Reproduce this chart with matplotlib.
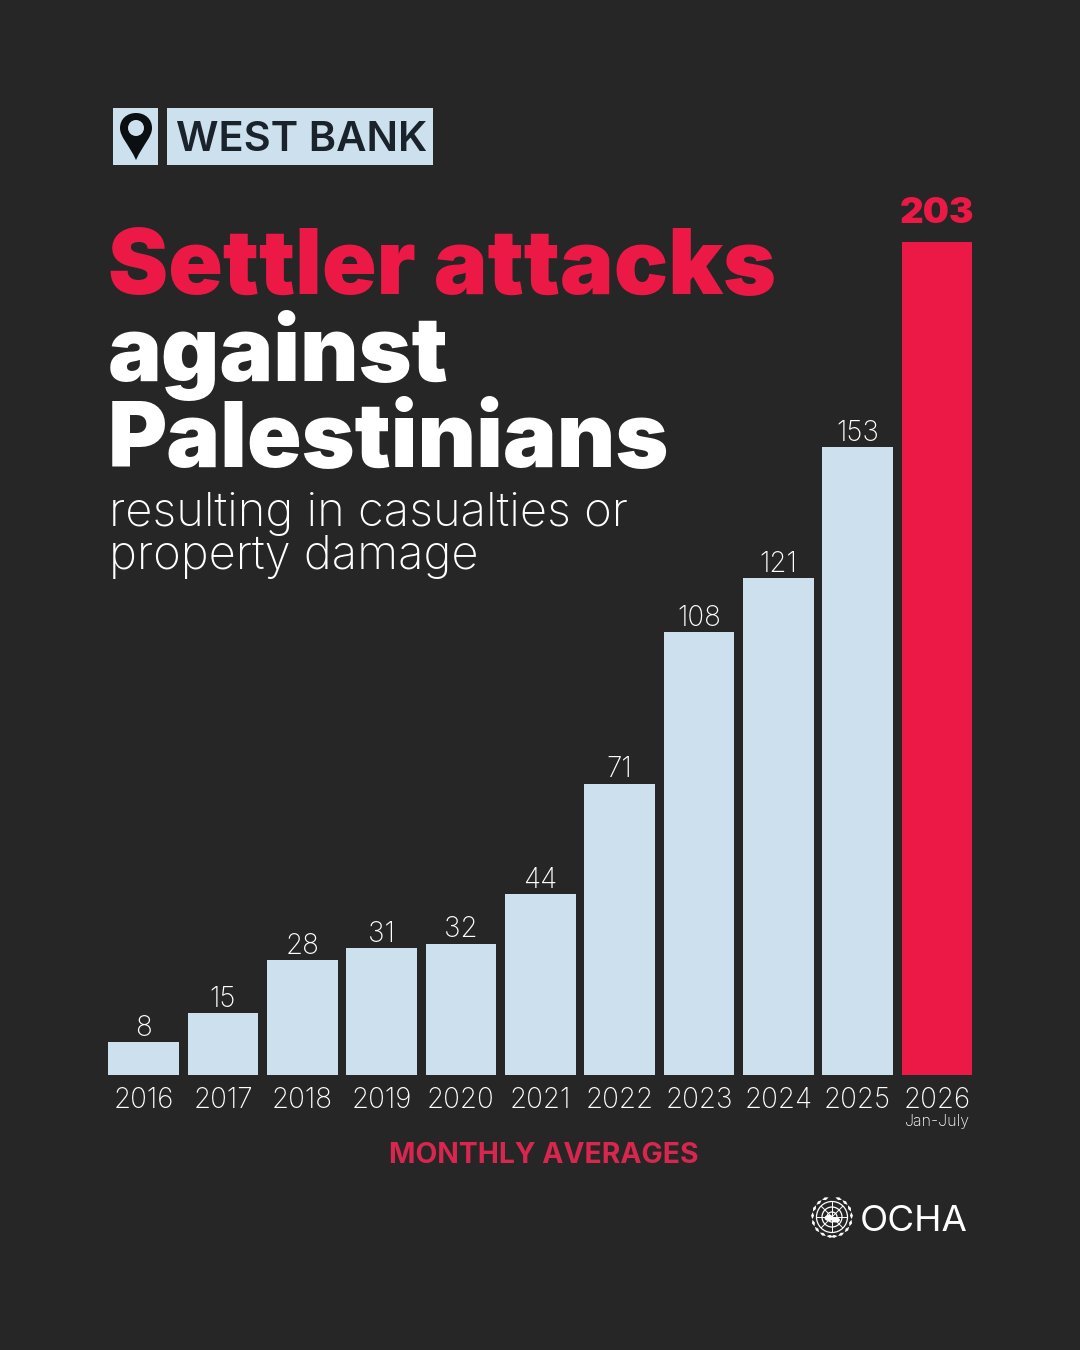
import numpy as np
import matplotlib
matplotlib.use('Agg')
import matplotlib.pyplot as plt
from matplotlib.patches import Rectangle, Circle, PathPatch, Ellipse, Polygon
from matplotlib.path import Path

# data
years = ['2016', '2017', '2018', '2019', '2020', '2021', '2022', '2023', '2024', '2025', '2026']
attacks = [8, 15, 28, 31, 32, 44, 71, 108, 121, 153, 203]
bar_colors = ['#cde0ee'] * 10 + ['#ec1946']

BG = '#262626'
RED = '#ec1946'
LIGHT = '#cde0ee'
DARK = '#1a232b'

plt.rcParams['font.family'] = ['Inter', 'Lato', 'DejaVu Sans']

W, H = 1080, 1350
fig = plt.figure(figsize=(W / 100, H / 100), dpi=100, facecolor=BG)

# canvas axes in pixel coordinates for the text and header boxes
bg = fig.add_axes([0, 0, 1, 1])
bg.set_xlim(0, W)
bg.set_ylim(H, 0)
bg.axis('off')

# bars: baseline at y=1075, top of axes at y=242
ax = fig.add_axes([104 / W, (H - 1075) / H, (976.6 - 104) / W, 833 / H])
ax.patch.set_alpha(0)
x = list(range(len(years)))
ax.bar(x, attacks, width=0.89, color=bar_colors, linewidth=0)
ax.set_xlim(-0.5, 10.5)
ax.set_ylim(0, 203)
ax.axis('off')

for xi, v in zip(x[:-1], attacks[:-1]):
    ax.annotate(str(v), (xi, v), xytext=(0, 4.5), textcoords='offset points', ha='center', va='baseline',
                color='white', fontsize=20, fontweight='light')
ax.annotate('203', (10, 203), xytext=(0, 14), textcoords='offset points', ha='center', va='baseline',
            color=RED, fontsize=26.5, fontweight='black')
for xi, yr in zip(x, years):
    ax.annotate(yr, (xi, 0), xytext=(0, -24), textcoords='offset points', ha='center', va='baseline',
                color='white', fontsize=20, fontweight='light')
ax.annotate('Jan-July', (10, 0), xytext=(0, -37), textcoords='offset points', ha='center', va='baseline',
            color='white', fontsize=11.5, fontweight='light')

# header tag
bg.add_patch(Rectangle((113, 108), 45, 57, color=LIGHT, lw=0))
bg.add_patch(Rectangle((167, 108), 266, 57, color=LIGHT, lw=0))
pin = Path([(136, 160), (128, 143), (120, 137), (120, 128), (120, 119), (127, 113), (136, 113),
            (145, 113), (152, 119), (152, 128), (152, 137), (144, 143), (136, 160)],
           [Path.MOVETO] + [Path.CURVE4] * 12)
bg.add_patch(PathPatch(pin, fc='#0c0f12', lw=0))
bg.add_patch(Circle((136, 128), 8, fc=LIGHT, lw=0))
bg.text(176, 151, 'WEST BANK', color=DARK, fontsize=30, fontweight='semibold', va='baseline', ha='left')

# title
bg.text(108, 294, 'Settler attacks', color=RED, fontsize=65, fontweight='black', va='baseline')
bg.text(108, 381, 'against', color='white', fontsize=65, fontweight='black', va='baseline')
bg.text(108, 467, 'Palestinians', color='white', fontsize=65, fontweight='black', va='baseline')
bg.text(109, 526, 'resulting in casualties or', color='white', fontsize=34, fontweight='light', va='baseline')
bg.text(109, 569, 'property damage', color='white', fontsize=34, fontweight='light', va='baseline')

bg.text(544, 1163, 'MONTHLY AVERAGES', color='#d8264f', fontsize=20.4, fontweight='bold', ha='center', va='baseline')

# OCHA mark: globe with a wreath round it
cx, cy = 832, 1217
for r in (15.5, 10, 5):
    bg.add_patch(Circle((cx, cy), r, fc='none', ec='white', lw=0.9))
for a in np.arange(0, np.pi, np.pi / 4):
    bg.plot([cx - 15 * np.cos(a), cx + 15 * np.cos(a)], [cy - 15 * np.sin(a), cy + 15 * np.sin(a)],
            color='white', lw=0.7)
bg.add_patch(Ellipse((cx - 3, cy + 1), 9, 6, fc='white', lw=0))
bg.add_patch(Ellipse((cx + 4, cy + 3), 8, 5, fc='white', lw=0))
for side in (-1, 1):
    for a in np.radians(np.arange(-70, 85, 22)):
        lx, ly = cx + side * 19.5 * np.cos(a), cy + 19.5 * np.sin(a)
        dx, dy = -side * np.sin(a) * 3.5, np.cos(a) * 3.5
        nx, ny = side * np.cos(a) * 1.5, np.sin(a) * 1.5
        bg.add_patch(Polygon([(lx - dx, ly - dy), (lx + nx, ly + ny), (lx + dx, ly + dy), (lx - nx, ly - ny)],
                             fc='white', lw=0))
bg.text(860, 1231, 'OCHA', color='white', fontsize=26.5, fontweight='normal', ha='left', va='baseline')

fig.savefig('out.png', dpi=100, facecolor=BG)
